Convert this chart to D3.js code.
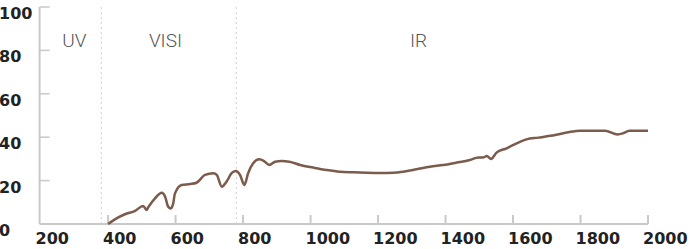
<!DOCTYPE html>
<html lang="en">
<head>
  <meta charset="UTF-8">
  <title>Spectrum</title>
  <script src="https://d3js.org/d3.v7.min.js"></script>
  <style>
    body { margin: 0; background: #fff; }
    svg { display: block; }
    .tick-label { font-family: 'DejaVu Sans', sans-serif; font-weight: bold; font-size: 16px; fill: #222; }
    .band { font-family: Roboto, 'Open Sans', sans-serif; font-weight: 300; font-size: 19px; fill: #555; }
    .divider { stroke: #d0d0d0; stroke-width: 1px; stroke-dasharray: 2,3; }
  </style>
</head>
<body>
<svg width="690" height="249"></svg>
<script>
  const wavelength = [400, 425, 450, 480, 504, 514, 519, 539, 559, 569, 578, 586, 593, 598, 618, 643, 662, 687, 712, 722,
    737, 751, 766, 778, 791, 804, 815, 830, 848, 862, 878, 895, 914, 937, 969, 1008, 1048, 1087, 1127, 1166,
    1206, 1245, 1275, 1314, 1354, 1393, 1433, 1472, 1497, 1512, 1522, 1535, 1551, 1581, 1611, 1640, 1675, 1725,
    1764, 1799, 1843, 1873, 1910, 1926, 1945, 2000];
  const reflect = [0, 2.6, 4.5, 6.1, 8.3, 6.5, 7.7, 11.8, 14.4, 12.6, 8, 7.2, 9.5, 14, 18, 18.4, 19, 22.6, 23.4, 22.6,
    17.2, 19.5, 23.4, 24.4, 22.6, 18, 23.4, 28, 29.8, 29, 27.2, 28.7, 29, 28.7, 27.2, 26, 24.9, 24.1, 23.8, 23.6,
    23.5, 23.6, 24.1, 25.2, 26.4, 27.2, 28.3, 29.5, 30.7, 30.7, 31.3, 30, 32.9, 34.9, 37.2, 39, 39.8, 41,
    42.3, 43, 43, 43, 41.3, 41.8, 43, 43];
  const xTicks = [200, 400, 600, 800, 1000, 1200, 1400, 1600, 1800, 2000];
  const yTicks = [0, 20, 40, 60, 80, 100];
  const dividers = [380, 780];
  const bands = [{ name: "UV", at: 300 }, { name: "VISI", at: 570 }, { name: "IR", at: 1320 }];

  const svg = d3.select("svg");
  const x = d3.scaleLinear().domain([200, 2000]).range([40.6, 648]);
  const y = d3.scaleLinear().domain([0, 100]).range([224, 7]);

  // axes
  svg.append("line")
    .attr("x1", x(200) - 1).attr("x2", x(2000)).attr("y1", y(0)).attr("y2", y(0))
    .attr("stroke", "#c9c9c9").attr("stroke-width", 2);
  svg.append("line")
    .attr("x1", x(200) - 1).attr("x2", x(200) - 1).attr("y1", y(0)).attr("y2", y(100))
    .attr("stroke", "#c9c9c9").attr("stroke-width", 2);

  svg.append("g").selectAll("line").data(xTicks.slice(1)).join("line")
    .attr("x1", d => x(d)).attr("x2", d => x(d))
    .attr("y1", y(0)).attr("y2", y(0) - 9)
    .attr("stroke", "#c9c9c9").attr("stroke-width", 2);

  svg.append("g").selectAll("line").data(yTicks.slice(1)).join("line")
    .attr("x1", x(200) - 1).attr("x2", x(200) + 9)
    .attr("y1", d => y(d)).attr("y2", d => y(d))
    .attr("stroke", "#c9c9c9").attr("stroke-width", 1.5);

  svg.append("g").selectAll("text").data(xTicks).join("text")
    .attr("class", "tick-label")
    .attr("x", d => x(d) - 5).attr("y", 243.5)
    .text(d => d);

  svg.append("g").selectAll("text").data(yTicks).join("text")
    .attr("class", "tick-label")
    .attr("x", -1).attr("y", d => y(d) + 12)
    .text(d => d);

  // band dividers
  svg.append("g").selectAll("line").data(dividers).join("line")
    .attr("class", "divider")
    .attr("x1", d => x(d)).attr("x2", d => x(d))
    .attr("y1", y(100)).attr("y2", y(0));

  svg.append("g").selectAll("text").data(bands).join("text")
    .attr("class", "band")
    .attr("text-anchor", "middle")
    .attr("x", d => x(d.at)).attr("y", 47)
    .text(d => d.name);

  const line = d3.line()
    .x((d, i) => x(wavelength[i]))
    .y(d => y(d))
    .curve(d3.curveMonotoneX);

  svg.append("path")
    .datum(reflect)
    .attr("fill", "none")
    .attr("stroke", "#7b5b4b")
    .attr("stroke-width", 2.5)
    .attr("stroke-linejoin", "round")
    .attr("d", line);
</script>
</body>
</html>
